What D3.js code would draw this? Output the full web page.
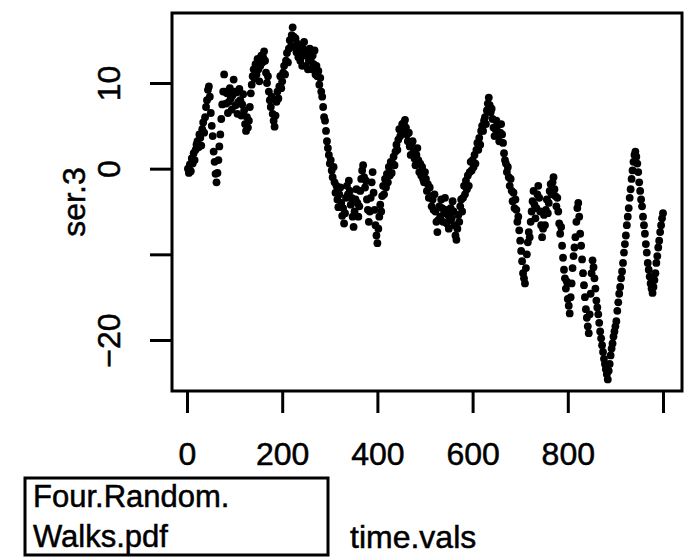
<!DOCTYPE html>
<html>
<head>
<meta charset="utf-8">
<script src="https://cdn.jsdelivr.net/npm/d3@7"></script>
<style>
  body { margin: 0; background: #fff; }
  svg { display: block; font-family: "Liberation Sans", Arial, sans-serif; }
  text { stroke: #000; stroke-width: 0.5px; }
</style>
</head>
<body>
<svg id="chart"></svg>
<script>
// time.vals (every 2nd step)
const timeVals = [
  2, 4, 6, 8, 10, 12, 14, 16, 18, 20, 22, 24, 26, 28, 30, 32, 34, 36, 38, 40,
  42, 44, 46, 48, 50, 52, 54, 56, 58, 60, 62, 64, 66, 68, 70, 72, 74, 76, 78, 80,
  82, 84, 86, 88, 90, 92, 94, 96, 98, 100, 102, 104, 106, 108, 110, 112, 114, 116, 118, 120,
  122, 124, 126, 128, 130, 132, 134, 136, 138, 140, 142, 144, 146, 148, 150, 152, 154, 156, 158, 160,
  162, 164, 166, 168, 170, 172, 174, 176, 178, 180, 182, 184, 186, 188, 190, 192, 194, 196, 198, 200,
  202, 204, 206, 208, 210, 212, 214, 216, 218, 220, 222, 224, 226, 228, 230, 232, 234, 236, 238, 240,
  242, 244, 246, 248, 250, 252, 254, 256, 258, 260, 262, 264, 266, 268, 270, 272, 274, 276, 278, 280,
  282, 284, 286, 288, 290, 292, 294, 296, 298, 300, 302, 304, 306, 308, 310, 312, 314, 316, 318, 320,
  322, 324, 326, 328, 330, 332, 334, 336, 338, 340, 342, 344, 346, 348, 350, 352, 354, 356, 358, 360,
  362, 364, 366, 368, 370, 372, 374, 376, 378, 380, 382, 384, 386, 388, 390, 392, 394, 396, 398, 400,
  402, 404, 406, 408, 410, 412, 414, 416, 418, 420, 422, 424, 426, 428, 430, 432, 434, 436, 438, 440,
  442, 444, 446, 448, 450, 452, 454, 456, 458, 460, 462, 464, 466, 468, 470, 472, 474, 476, 478, 480,
  482, 484, 486, 488, 490, 492, 494, 496, 498, 500, 502, 504, 506, 508, 510, 512, 514, 516, 518, 520,
  522, 524, 526, 528, 530, 532, 534, 536, 538, 540, 542, 544, 546, 548, 550, 552, 554, 556, 558, 560,
  562, 564, 566, 568, 570, 572, 574, 576, 578, 580, 582, 584, 586, 588, 590, 592, 594, 596, 598, 600,
  602, 604, 606, 608, 610, 612, 614, 616, 618, 620, 622, 624, 626, 628, 630, 632, 634, 636, 638, 640,
  642, 644, 646, 648, 650, 652, 654, 656, 658, 660, 662, 664, 666, 668, 670, 672, 674, 676, 678, 680,
  682, 684, 686, 688, 690, 692, 694, 696, 698, 700, 702, 704, 706, 708, 710, 712, 714, 716, 718, 720,
  722, 724, 726, 728, 730, 732, 734, 736, 738, 740, 742, 744, 746, 748, 750, 752, 754, 756, 758, 760,
  762, 764, 766, 768, 770, 772, 774, 776, 778, 780, 782, 784, 786, 788, 790, 792, 794, 796, 798, 800,
  802, 804, 806, 808, 810, 812, 814, 816, 818, 820, 822, 824, 826, 828, 830, 832, 834, 836, 838, 840,
  842, 844, 846, 848, 850, 852, 854, 856, 858, 860, 862, 864, 866, 868, 870, 872, 874, 876, 878, 880,
  882, 884, 886, 888, 890, 892, 894, 896, 898, 900, 902, 904, 906, 908, 910, 912, 914, 916, 918, 920,
  922, 924, 926, 928, 930, 932, 934, 936, 938, 940, 942, 944, 946, 948, 950, 952, 954, 956, 958, 960,
  962, 964, 966, 968, 970, 972, 974, 976, 978, 980, 982, 984, 986, 988, 990, 992, 994, 996, 998, 1000
];

// ser.3
const ser3 = [
  0.0, -0.5, 0.5, -0.3, 1.2, 0.6, 1.8, 1.0, 2.2, 2.8,
  3.2, 2.5, 4.0, 3.6, 2.7, 4.6, 5.4, 4.2, 6.0, 7.2,
  8.0, 9.2, 9.6, 8.4, 6.5, 5.0, 3.8, 2.0, 0.8, -0.6,
  -1.6, -0.5, 1.0, 2.6, 4.0, 5.8, 7.5, 9.0, 11.0, 9.0,
  7.6, 8.8, 6.5, 7.8, 9.4, 8.2, 6.9, 8.6, 10.4, 9.0,
  7.4, 8.9, 6.4, 7.8, 9.3, 8.0, 6.2, 7.5, 8.7, 6.8,
  5.2, 4.4, 6.0, 4.8, 5.6, 7.2, 8.8, 9.8, 10.8, 11.6,
  10.5, 12.2, 11.0, 12.8, 11.6, 10.2, 12.0, 13.2, 12.4, 13.0,
  13.7, 12.6, 11.2, 10.0, 10.8, 9.0, 8.0, 7.2, 8.4, 6.4,
  5.6, 4.9, 6.2, 7.8, 9.0, 8.2, 9.6, 10.8, 9.4, 10.2,
  11.2, 12.0, 11.0, 12.6, 13.5, 12.4, 14.0, 15.0, 14.2, 15.6,
  16.5, 15.4, 14.3, 15.2, 13.6, 14.6, 13.0, 14.2, 12.6, 13.4,
  12.0, 14.0, 14.8, 13.2, 12.0, 13.6, 11.6, 12.6, 14.0, 12.8,
  11.6, 13.2, 12.2, 13.8, 11.0, 12.0, 10.8, 11.4, 9.8, 10.6,
  9.0, 8.4, 7.2, 6.0, 5.6, 4.4, 3.2, 2.4, 1.6, 0.6,
  1.0, -0.2, -1.0, 0.2, -1.6, -2.8, -2.0, -3.6, -4.5, -3.0,
  -2.2, -4.0, -5.5, -4.6, -6.4, -5.2, -3.4, -2.0, -3.0, -1.4,
  -2.6, -4.2, -3.4, -5.6, -6.8, -5.0, -3.6, -2.4, -4.0, -5.6,
  -4.4, -2.6, -1.2, -0.2, 0.4, -1.0, -2.2, -1.4, -3.6, -4.8,
  -6.2, -5.0, -3.4, -1.6, -0.4, -2.8, -4.8, -6.6, -7.8, -8.7,
  -7.0, -5.6, -4.2, -5.0, -3.2, -2.0, -3.0, -1.2, -2.2, -0.6,
  -1.6, 0.2, -0.8, 0.8, -0.5, 0.6, 1.4, 0.4, 2.0, 2.8,
  2.2, 3.4, 4.6, 3.8, 4.4, 5.2, 4.6, 5.4, 5.7, 4.8,
  4.0, 3.2, 4.2, 2.6, 1.6, 2.8, 3.2, 2.0, 1.2, 0.4,
  1.6, 2.4, 1.0, -0.4, 0.6, -0.8, 0.2, -1.2, -1.6, -0.4,
  -1.2, -2.6, -1.8, -3.4, -2.2, -3.2, -4.4, -3.6, -4.8, -3.0,
  -5.0, -6.2, -7.4, -6.0, -4.4, -5.6, -3.6, -4.6, -6.2, -5.2,
  -3.4, -4.8, -6.4, -5.4, -7.0, -6.0, -4.6, -5.8, -3.8, -5.0,
  -6.6, -7.8, -8.3, -7.0, -5.4, -6.2, -4.4, -3.6, -5.0, -3.4,
  -2.0, -3.0, -1.4, -2.4, -0.8, -2.0, -0.4, 0.8, -0.2, 1.0,
  0.2, 1.6, 0.6, 2.2, 3.0, 2.2, 3.6, 2.8, 4.4, 5.0,
  4.4, 5.6, 6.0, 5.2, 6.8, 7.6, 8.3, 7.4, 6.6, 7.0,
  5.8, 4.8, 3.8, 4.6, 5.6, 5.0, 4.0, 3.2, 4.2, 5.2,
  4.0, 3.0, 1.8, 1.0, 0.6, -0.4, 0.2, -1.0, -2.0, -1.2,
  -2.6, -3.8, -2.8, -4.6, -3.6, -4.8, -6.2, -5.6, -7.2, -8.4,
  -9.6, -10.8, -12.2, -12.8, -13.4, -11.6, -10.0, -8.6, -7.4, -8.0,
  -6.2, -5.0, -3.8, -2.6, -4.2, -5.8, -4.6, -3.0, -2.0, -3.4,
  -5.0, -6.6, -8.0, -7.0, -5.4, -6.6, -4.8, -3.6, -5.2, -4.0,
  -2.6, -1.8, -3.0, -1.6, -1.0, -2.4, -3.2, -4.4, -3.4, -5.0,
  -6.4, -7.6, -6.8, -9.0, -10.4, -11.8, -12.8, -14.0, -13.2, -15.2,
  -16.0, -16.9, -15.0, -13.4, -11.6, -10.2, -9.2, -8.0, -6.2, -4.6,
  -4.0, -5.6, -7.6, -9.0, -10.6, -12.2, -13.6, -15.0, -16.4, -17.4,
  -18.4, -19.2, -17.0, -14.6, -12.2, -10.7, -11.5, -12.8, -14.0, -15.4,
  -16.2, -17.0, -18.0, -19.0, -19.8, -20.6, -21.4, -22.2, -22.8, -23.4,
  -24.0, -24.6, -23.6, -22.8, -21.8, -21.0, -20.4, -19.6, -19.0, -18.4,
  -17.8, -16.6, -15.6, -14.6, -13.8, -12.8, -12.0, -11.0, -9.8, -8.8,
  -7.8, -6.6, -5.6, -4.6, -3.4, -2.4, -1.2, -0.2, 0.8, 1.6,
  2.0, 1.4, 0.6, -0.4, -1.6, -2.6, -3.6, -4.4, -5.6, -6.6,
  -7.6, -8.8, -9.8, -11.0, -11.8, -12.6, -13.4, -14.0, -14.5, -13.8,
  -13.0, -12.2, -11.0, -10.2, -9.2, -8.4, -7.4, -6.6, -5.8, -5.2
];

const xTicks = [0, 200, 400, 600, 800, 1000];
const xTickLabels = ["0", "200", "400", "600", "800", ""];
const yTicks = [-20, -10, 0, 10];
const yTickLabels = ["\u221220", "", "0", "10"];

const width = 685,
    height = 559;
const box = { left: 172, right: 682, top: 13, bottom: 391 };

const svg = d3.select('#chart').attr('width', width).attr('height', height);
svg.append('rect').attr('width', width).attr('height', height).attr('fill', '#fff');

const x = d3.scaleLinear().domain([0, 1000]).range([187, 663]);
const y = d3.scaleLinear().domain([-20, 10]).range([340, 83]);

// points
svg.append('g')
    .selectAll('circle')
    .data(timeVals)
    .join('circle')
    .attr('cx', d => x(d))
    .attr('cy', (d, i) => y(ser3[i]))
    .attr('r', 3.9)
    .attr('fill', '#000');

// plot frame
svg.append('rect')
    .attr('x', box.left).attr('y', box.top)
    .attr('width', box.right - box.left).attr('height', box.bottom - box.top)
    .attr('fill', 'none').attr('stroke', '#000').attr('stroke-width', 3);

// x axis
const xAxis = d3.axisBottom(x).tickValues(xTicks).tickSize(22).tickPadding(29)
    .tickFormat((d, i) => xTickLabels[i]);
const gx = svg.append('g').attr('transform', `translate(0,${box.bottom})`).call(xAxis);
gx.select('.domain').remove();
gx.selectAll('.tick line').attr('stroke', '#000').attr('stroke-width', 3);
gx.selectAll('.tick text').attr('fill', '#000').style('font-size', '32px')
    .attr('dy', '0.71em');

// y axis
const yAxis = d3.axisLeft(y).tickValues(yTicks).tickSize(22).tickPadding(0)
    .tickFormat((d, i) => yTickLabels[i]);
const gy = svg.append('g').attr('transform', `translate(${box.left},0)`).call(yAxis);
gy.select('.domain').remove();
gy.selectAll('.tick line').attr('stroke', '#000').attr('stroke-width', 3);
gy.selectAll('.tick text')
    .attr('fill', '#000').style('font-size', '32px')
    .attr('x', null).attr('dy', null)
    .attr('text-anchor', 'middle')
    .attr('transform', 'translate(-52,0) rotate(-90)');

// axis titles
svg.append('text')
    .attr('transform', `translate(85,${(box.top + box.bottom) / 2}) rotate(-90)`)
    .attr('text-anchor', 'middle')
    .style('font-size', '32px')
    .text('ser.3');

svg.append('text')
    .attr('x', 350).attr('y', 548)
    .style('font-size', '32px')
    .text('time.vals');

// file-name stamp
svg.append('rect')
    .attr('x', 25).attr('y', 478).attr('width', 303).attr('height', 77)
    .attr('fill', 'none').attr('stroke', '#000').attr('stroke-width', 3);
svg.append('text').attr('x', 33).attr('y', 507).style('font-size', '31px').text('Four.Random.');
svg.append('text').attr('x', 33).attr('y', 547).style('font-size', '31px').text('Walks.pdf');
</script>
</body>
</html>
